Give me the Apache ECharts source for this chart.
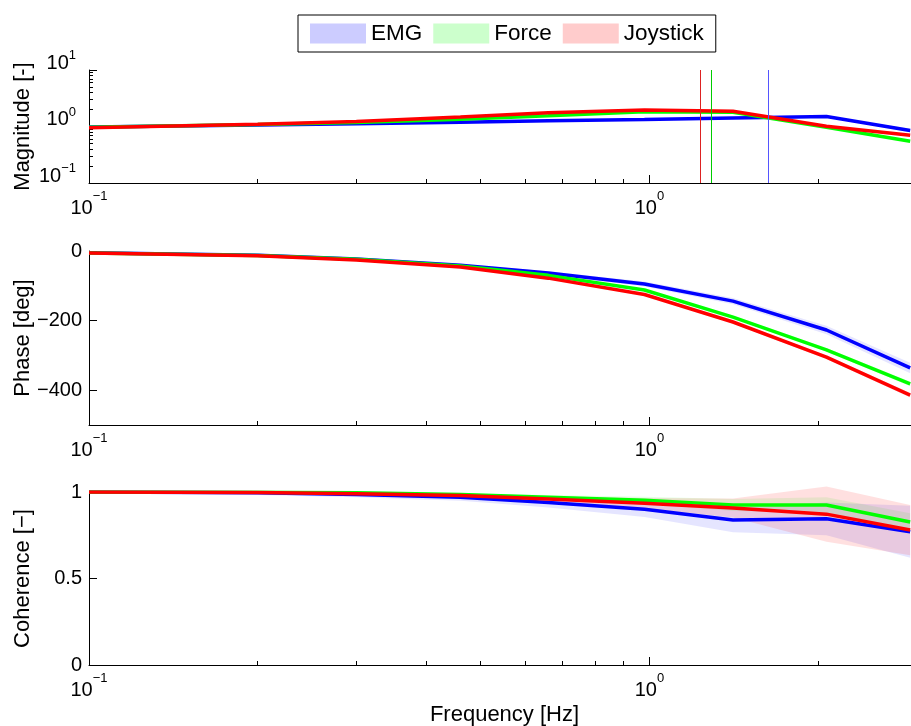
<!DOCTYPE html>
<html><head><meta charset="utf-8">
<script src="https://cdn.jsdelivr.net/npm/echarts@6/dist/echarts.min.js"></script>
<style>html,body{margin:0;padding:0;background:#fff}#c{width:911px;height:726px}</style>
</head><body><div id="c"></div>
<script>
// ---------- data ----------
const seriesNames = ['EMG', 'Force', 'Joystick'];
const freqs = [0.1, 0.2, 0.3, 0.46, 0.66, 0.98, 1.41, 2.07, 2.92];

const magEMG   = [0.98, 1.06, 1.12, 1.19, 1.27, 1.33, 1.41, 1.50, 0.85];
const magForce = [0.97, 1.08, 1.18, 1.35, 1.55, 1.82, 1.78, 0.97, 0.55];
const magJoy   = [0.95, 1.10, 1.23, 1.48, 1.75, 1.95, 1.86, 1.01, 0.70];
const magSdEMG   = [0.01, 0.015, 0.02, 0.02, 0.03, 0.03, 0.04, 0.05, 0.06];
const magSdForce = [0.01, 0.01, 0.015, 0.02, 0.02, 0.03, 0.03, 0.03, 0.03];
const magSdJoy   = [0.01, 0.01, 0.015, 0.02, 0.02, 0.03, 0.03, 0.03, 0.03];

const phEMG   = [-5, -12, -23, -41, -63, -95, -144, -227, -336];
const phForce = [-6, -13, -24, -43, -70, -112, -190, -284, -382];
const phJoy   = [-6, -14, -26, -46, -78, -125, -204, -305, -414];
const phSdEMG   = [1, 2, 3, 4, 5, 7, 9, 12, 15];
const phSdForce = [0.5, 1, 1.5, 2, 2.5, 3, 4, 5, 7];
const phSdJoy   = [0.5, 1, 1.5, 2, 2.5, 3, 4, 5, 7];

const cohEMG   = [1.0, 0.995, 0.985, 0.97, 0.94, 0.90, 0.838, 0.845, 0.77];
const cohForce = [1.0, 0.998, 0.995, 0.985, 0.97, 0.953, 0.925, 0.925, 0.827];
const cohJoy   = [1.0, 0.997, 0.99, 0.98, 0.96, 0.935, 0.907, 0.872, 0.78];
const cohSdEMG   = [0.002, 0.012, 0.015, 0.02, 0.03, 0.045, 0.07, 0.095, 0.15];
const cohSdForce = [0.001, 0.003, 0.005, 0.008, 0.012, 0.02, 0.035, 0.045, 0.05];
const cohSdJoy   = [0.001, 0.003, 0.006, 0.01, 0.015, 0.03, 0.055, 0.16, 0.145];

const crossFreqs = [1.625, 1.29, 1.23]; // EMG, Force, Joystick

const xMin = 0.1, xMax = 2.93;
const xMajorTicks = [0.1, 1];
const xMinorTicks = [0.2, 0.3, 0.4, 0.5, 0.6, 0.7, 0.8, 0.9, 2];
const magMajorTicks = [0.1, 1, 10];
const magMinorTicks = [0.2, 0.3, 0.4, 0.5, 0.6, 0.7, 0.8, 0.9, 2, 3, 4, 5, 6, 7, 8, 9];
const phaseTicks = [-400, -200, 0];
const cohTicks = [0, 0.5, 1];
const yNames = ['Magnitude [-]', 'Phase [deg]', 'Coherence [\u2212]'];
const xName = 'Frequency [Hz]';

// ---------- style ----------
const FONT = '"Liberation Sans", Arial, Helvetica, sans-serif';
const lineColors = ['#0000ff', '#00ff00', '#ff0000'];
const bandColors = ['rgba(0,0,255,0.10)', 'rgba(0,255,0,0.10)', 'rgba(255,0,0,0.12)'];
const legendColors = ['#ccccff', '#ccffcc', '#ffcccc'];
const crossColors = ['#5555ff', '#00cc00', '#dd2222'];

const grids = [
  {left: 89, right: 0, top: 70, height: 113},
  {left: 89, right: 0, top: 251, height: 174},
  {left: 89, right: 0, top: 492, height: 173}
];

function supLabel(v) {
  const e = Math.round(Math.log10(v));
  return '{b|10}{s|' + (e < 0 ? '\u2212' + (-e) : String(e)) + '}';
}
function xRich() {
  return {
    b: {fontSize: 20, fontFamily: FONT, color: '#000', padding: [8, 0, 0, 0]},
    s: {fontSize: 13, fontFamily: FONT, color: '#000', verticalAlign: 'top'}
  };
}
function yRich() {
  return {
    b: {fontSize: 20, fontFamily: FONT, color: '#000', padding: [4, 0, 18, 0]},
    s: {fontSize: 13, fontFamily: FONT, color: '#000', verticalAlign: 'top'}
  };
}
const minusFmt = v => (v < 0 ? '\u2212' + (-v) : String(v));

const xAxes = [], yAxes = [];
grids.forEach((g, i) => {
  xAxes.push({
    type: 'log', logBase: 10, gridIndex: i, min: xMin, max: xMax, position: 'bottom',
    axisLine: {show: true, onZero: false, lineStyle: {color: '#000', width: 1}},
    axisTick: {show: true, inside: true, length: 8, customValues: xMajorTicks, lineStyle: {color: '#000'}},
    axisLabel: {show: true, customValues: xMajorTicks, formatter: supLabel, rich: xRich(), margin: 7},
    splitLine: {show: false},
    name: i === 2 ? xName : '', nameLocation: 'middle', nameGap: 39, nameMoveOverlap: false,
    nameTextStyle: {fontSize: 22, fontFamily: FONT, color: '#000', padding: [0, 0, 0, 9]}
  });
  xAxes.push({
    type: 'log', logBase: 10, gridIndex: i, min: xMin, max: xMax, position: 'bottom',
    axisLine: {show: false, onZero: false},
    axisTick: {show: true, inside: true, length: 4, customValues: xMinorTicks, lineStyle: {color: '#000'}},
    axisLabel: {show: false}, splitLine: {show: false}
  });
});

const yNameCommon = {nameLocation: 'middle', nameGap: 55, nameMoveOverlap: false,
  nameTextStyle: {fontSize: 22, fontFamily: FONT, color: '#000'}};
yAxes.push(Object.assign({
  type: 'log', logBase: 10, gridIndex: 0, min: 0.1, max: 10, position: 'left', name: yNames[0],
  axisLine: {show: true, onZero: false, lineStyle: {color: '#000', width: 1}},
  axisTick: {show: true, inside: true, length: 8, customValues: magMajorTicks, lineStyle: {color: '#000'}},
  axisLabel: {show: true, customValues: magMajorTicks, formatter: supLabel, rich: yRich(), margin: 13},
  splitLine: {show: false}
}, yNameCommon));
yAxes.push({
  type: 'log', logBase: 10, gridIndex: 0, min: 0.1, max: 10, position: 'left',
  axisLine: {show: false, onZero: false},
  axisTick: {show: true, inside: true, length: 4, customValues: magMinorTicks, lineStyle: {color: '#000'}},
  axisLabel: {show: false}, splitLine: {show: false}
});
yAxes.push(Object.assign({
  type: 'value', gridIndex: 1, min: -500, max: 0, position: 'left', name: yNames[1],
  axisLine: {show: true, onZero: false, lineStyle: {color: '#000', width: 1}},
  axisTick: {show: true, inside: true, length: 8, customValues: phaseTicks, lineStyle: {color: '#000'}},
  axisLabel: {show: true, customValues: phaseTicks, formatter: minusFmt, fontSize: 20, fontFamily: FONT, color: '#000', margin: 7},
  splitLine: {show: false}
}, yNameCommon));
yAxes.push(Object.assign({
  type: 'value', gridIndex: 2, min: 0, max: 1, position: 'left', name: yNames[2],
  axisLine: {show: true, onZero: false, lineStyle: {color: '#000', width: 1}},
  axisTick: {show: true, inside: true, length: 8, customValues: cohTicks, lineStyle: {color: '#000'}},
  axisLabel: {show: true, customValues: cohTicks, formatter: v => String(v), fontSize: 20, fontFamily: FONT, color: '#000', margin: 7},
  splitLine: {show: false}
}, yNameCommon));

const panelY = [0, 2, 3];
const panelX = [0, 2, 4];
const panels = [
  {means: [magEMG, magForce, magJoy], sds: [magSdEMG, magSdForce, magSdJoy]},
  {means: [phEMG, phForce, phJoy], sds: [phSdEMG, phSdForce, phSdJoy]},
  {means: [cohEMG, cohForce, cohJoy], sds: [cohSdEMG, cohSdForce, cohSdJoy]}
];

const series = [];
panels.forEach((p, pi) => {
  p.means.forEach((mean, si) => {
    const sd = p.sds[si];
    series.push({
      type: 'custom', name: seriesNames[si], xAxisIndex: panelX[pi], yAxisIndex: panelY[pi],
      z: 1, silent: true, clip: false, animation: false,
      itemStyle: {color: legendColors[si]},
      data: [[freqs[0], mean[0]]],
      renderItem: function (params, api) {
        const up = freqs.map((f, k) => api.coord([f, mean[k] + sd[k]]));
        const lo = freqs.map((f, k) => api.coord([f, mean[k] - sd[k]])).reverse();
        return {type: 'polygon', shape: {points: up.concat(lo)}, style: {fill: bandColors[si], stroke: null}};
      }
    });
  });
  p.means.forEach((mean, si) => {
    series.push({
      type: 'line', name: seriesNames[si] + ' mean', xAxisIndex: panelX[pi], yAxisIndex: panelY[pi],
      z: 3, silent: true, animation: false, showSymbol: false, symbol: 'none',
      lineStyle: {color: lineColors[si], width: 3.5},
      data: freqs.map((f, k) => [f, mean[k]])
    });
  });
});
// crossover frequency markers (vertical lines spanning the magnitude axis)
crossFreqs.forEach((cf, si) => {
  series.push({
    type: 'custom', name: seriesNames[si] + ' crossover', xAxisIndex: 0, yAxisIndex: 0,
    z: 4, silent: true, animation: false, clip: false,
    itemStyle: {color: crossColors[si]},
    data: [[cf, 1]],
    renderItem: function (params, api) {
      const f = api.value(0);
      const top = api.coord([f, 10]);
      const bot = api.coord([f, 0.1]);
      const x = Math.round(top[0]) + 0.5;
      return {type: 'line', shape: {x1: x, y1: top[1], x2: x, y2: bot[1]},
              style: {stroke: crossColors[si], lineWidth: 1, opacity: 1}};
    }
  });
});

const chart = echarts.init(document.getElementById('c'), null, {renderer: 'canvas'});
chart.setOption({
  animation: false,
  backgroundColor: '#fff',
  grid: grids.map(g => Object.assign({outerBoundsMode: 'none', containLabel: false}, g)),
  xAxis: xAxes,
  yAxis: yAxes,
  legend: {
    left: 298, top: 15, orient: 'horizontal', selectedMode: false,
    padding: [7, 12, 7, 12], itemGap: 11, itemWidth: 56, itemHeight: 20,
    borderColor: '#000', borderWidth: 1, backgroundColor: '#fff',
    textStyle: {fontSize: 22.5, fontFamily: FONT, color: '#000'},
    data: seriesNames.map((n, i) => ({name: n, icon: 'rect', itemStyle: {color: legendColors[i]}}))
  },
  series: series
});
</script>
</body></html>
